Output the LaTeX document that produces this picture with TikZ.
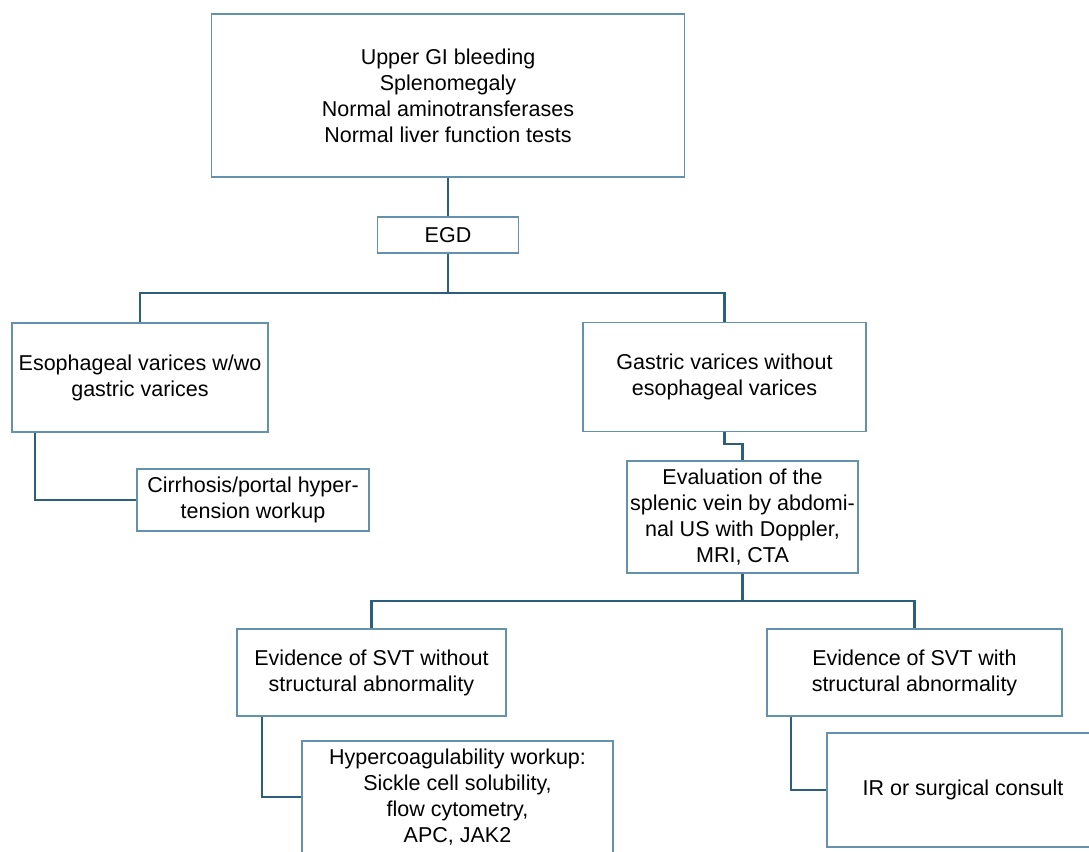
\documentclass[tikz,border=0pt]{standalone}
\usepackage{fontspec}
\setmainfont{Liberation Sans}
\definecolor{boxc}{RGB}{100,145,172}
\definecolor{connc}{RGB}{45,95,125}
\begin{document}
\begin{tikzpicture}[x=1pt,y=-1pt,
  box/.style={draw=boxc,line width=1.5pt,fill=white,rectangle,inner sep=0pt,align=center,
    font=\fontsize{21.5}{26}\selectfont,text=black},
  conn/.style={draw=connc,line width=2.4pt}]
\useasboundingbox (0,0) rectangle (1089,851);
\clip (0,0) rectangle (1089,851);
\fill[white] (0,0) rectangle (1089,851);
\coordinate (h1) at (0,293);
\coordinate (h2) at (0,601);
\node[box,minimum width=473pt,minimum height=163pt] (top) at (448,95.5)
  {Upper GI bleeding\\Splenomegaly\\Normal aminotransferases\\Normal liver function tests};
\node[box,minimum width=141pt,minimum height=36pt] (egd) at (448,235) {EGD};
\node[box,minimum width=256pt,minimum height=109pt] (eso) at (140,377.5)
  {Esophageal varices w/wo\\gastric varices};
\node[box,minimum width=283pt,minimum height=109pt] (gas) at (724.5,377)
  {Gastric varices without\\esophageal varices};
\node[box,minimum width=232pt,minimum height=62pt] (cir) at (253,500)
  {Cirrhosis/portal hyper-\\tension workup};
\node[box,minimum width=231pt,minimum height=112pt] (eva) at (742.5,517)
  {Evaluation of the\\splenic vein by abdomi-\\nal US with Doppler,\\MRI, CTA};
\node[box,minimum width=269pt,minimum height=87pt] (svta) at (371.5,672.5)
  {Evidence of SVT without\\structural abnormality};
\node[box,minimum width=295pt,minimum height=87pt] (svtb) at (914.5,672.5)
  {Evidence of SVT with\\structural abnormality};
\node[box,minimum width=311pt,minimum height=112pt] (hyp) at (457.5,797)
  {Hypercoagulability workup:\\Sickle cell solubility,\\flow cytometry,\\APC, JAK2};
\node[box,minimum width=272pt,minimum height=114pt] (ir) at (963,790)
  {IR or surgical consult};
\draw[conn] (top.south) -- (egd.north);
\draw[conn] (egd.south) -- (egd.south |- h1);
\draw[conn] (eso.north) -- (eso.north |- h1) -- (gas.north |- h1) -- (gas.north);
\draw[conn] ([xshift=24pt]eso.south west) |- (cir.west);
\draw[conn] (gas.south) -- ++(0,12) -| (eva.north);
\draw[conn] (eva.south) -- (eva.south |- h2);
\draw[conn] (svta.north) -- (svta.north |- h2) -- (svtb.north |- h2) -- (svtb.north);
\draw[conn] ([xshift=26pt]svta.south west) |- (hyp.west);
\draw[conn] ([xshift=25pt]svtb.south west) |- (ir.west);
\end{tikzpicture}
\end{document}
